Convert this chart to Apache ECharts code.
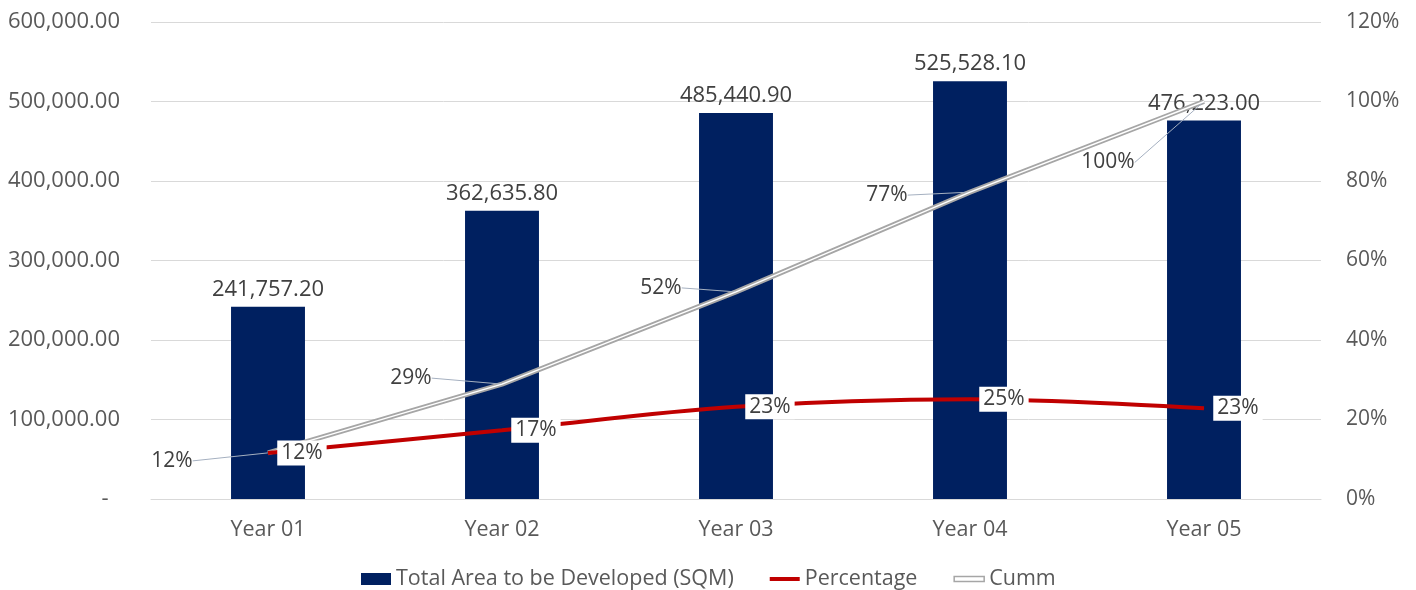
<!DOCTYPE html>
<html>
<head>
<meta charset="utf-8">
<script src="https://cdn.jsdelivr.net/npm/echarts@6/dist/echarts.min.js"></script>
<style>
  html, body { margin: 0; padding: 0; background: #fff; }
  #chart { width: 1416px; height: 590px; }
</style>
</head>
<body>
<div id="chart"></div>
<script>
const years = ['Year 01', 'Year 02', 'Year 03', 'Year 04', 'Year 05'];
const areaSqm = [241757.2, 362635.8, 485440.9, 525528.1, 476223.0];
const pctShare = [0.116, 0.173, 0.232, 0.251, 0.228];
const cummShare = [0.116, 0.289, 0.521, 0.772, 1.0];

// where the Cumm labels sit relative to their points
const cummLabelShift = [[-96, 8], [-91, -6], [-75, -4], [-83, 3], [-96, 61]];

const font = 'Open Sans';
const axisColor = '#595959';

const chart = echarts.init(document.getElementById('chart'));

const fmtNum = v => v.toLocaleString('en-US', { minimumFractionDigits: 2, maximumFractionDigits: 2 });
const fmtPct = v => Math.round(v * 100) + '%';

chart.setOption({
    animation: false,
    textStyle: { fontFamily: font },
    grid: { left: 151, right: 95, top: 22, bottom: 91 },
    legend: {
        left: 356,
        top: 563,
        itemWidth: 30,
        itemHeight: 14,
        itemGap: 36,
        textStyle: { fontSize: 21.5, color: axisColor, fontFamily: font },
        data: [
            {
                name: 'Total Area to be Developed (SQM)',
                icon: 'path://M0,0 L30,0 L30,12 L0,12 Z',
                itemStyle: { color: '#002060' }
            },
            {
                name: 'Percentage',
                icon: 'path://M0,0 L30,0 L30,4 L0,4 Z',
                itemStyle: { color: '#c00000', opacity: 1 }
            },
            {
                name: 'Cumm',
                icon: 'path://M0,0 L30,0 L30,5 L0,5 Z',
                itemStyle: { color: '#fff', borderColor: '#a6a6a6', borderWidth: 1.5, opacity: 1 }
            }
        ]
    },
    xAxis: {
        type: 'category',
        data: years,
        axisTick: { show: false },
        axisLine: { lineStyle: { color: '#d9d9d9', width: 1 } },
        axisLabel: { color: axisColor, fontSize: 21.5, margin: 20 }
    },
    yAxis: [
        {
            type: 'value',
            min: 0,
            max: 600000,
            interval: 100000,
            axisLine: { show: false },
            axisTick: { show: false },
            splitLine: { lineStyle: { color: '#d9d9d9' } },
            axisLabel: {
                color: axisColor,
                fontSize: 22,
                margin: 31,
                formatter: v => (v === 0 ? '-  ' : fmtNum(v))
            }
        },
        {
            type: 'value',
            min: 0,
            max: 1.2,
            interval: 0.2,
            axisLine: { show: false },
            axisTick: { show: false },
            splitLine: { show: false },
            axisLabel: { color: axisColor, fontSize: 21, margin: 25, formatter: fmtPct }
        }
    ],
    series: [
        {
            name: 'Total Area to be Developed (SQM)',
            type: 'bar',
            data: areaSqm,
            barWidth: '31.6%',
            itemStyle: { color: '#002060' },
            label: {
                show: true,
                position: 'top',
                distance: 6,
                color: '#404040',
                fontSize: 22,
                formatter: p => fmtNum(p.value)
            }
        },
        {
            name: 'Cumm',
            type: 'line',
            yAxisIndex: 1,
            data: cummShare,
            z: 3,
            symbol: 'circle',
            symbolSize: 0.5,
            itemStyle: { color: '#a6a6a6' },
            lineStyle: { color: '#a6a6a6', width: 5 },
            label: {
                show: true,
                position: 'inside',
                color: '#404040',
                fontSize: 21,
                formatter: p => fmtPct(p.value)
            },
            labelLine: { show: true, lineStyle: { color: '#a5b0c0', width: 1 } },
            labelLayout: p => ({
                dx: cummLabelShift[p.dataIndex][0],
                dy: cummLabelShift[p.dataIndex][1]
            })
        },
        {
            name: 'CummInner',
            type: 'line',
            yAxisIndex: 1,
            data: cummShare,
            z: 4,
            silent: true,
            symbol: 'none',
            lineStyle: { color: '#ffffff', width: 1.5 }
        },
        {
            name: 'Percentage',
            type: 'line',
            yAxisIndex: 1,
            data: pctShare,
            z: 5,
            smooth: 0.35,
            symbol: 'circle',
            symbolSize: 0.5,
            itemStyle: { color: '#c00000' },
            lineStyle: { color: '#c00000', width: 4 },
            label: {
                show: true,
                position: 'right',
                distance: 9,
                color: '#404040',
                fontSize: 21,
                backgroundColor: '#ffffff',
                padding: [2, 4],
                formatter: p => fmtPct(p.value)
            }
        }
    ]
});
</script>
</body>
</html>
